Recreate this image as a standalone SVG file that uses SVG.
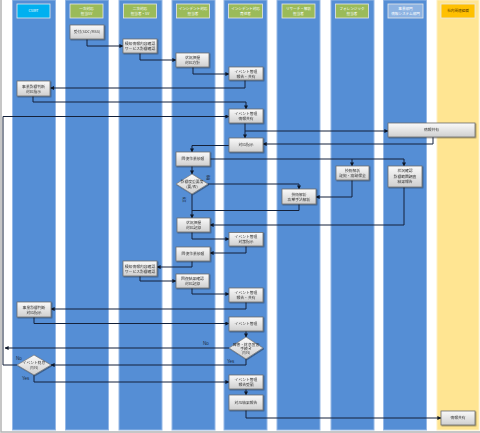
<svg xmlns="http://www.w3.org/2000/svg" width="480" height="433" viewBox="0 0 480 433">
<style>
.lane{fill:#558ed5;stroke:#95b8e6;stroke-width:1}
.lane9{fill:#ffe592;stroke:#fff0c0;stroke-width:1}
.hd{stroke:#e8e8e8;stroke-width:0.8}
.ht{font-family:"Noto Sans CJK JP","Noto Sans",sans-serif;font-size:3.6px;fill:#ffffff;text-anchor:middle}
.htd{fill:#5a3a00}
.box{fill:url(#g);stroke:#6f6f6f;stroke-width:0.8}
.dia{fill:url(#g);stroke:#777;stroke-width:0.7}
.t{font-family:"Noto Sans CJK JP","Noto Sans",sans-serif;font-size:3.8px;fill:#333;text-anchor:middle}
.lbl{font-family:"Liberation Sans","Noto Sans CJK JP",sans-serif;font-size:4.5px;fill:#1a2a40}
.c{fill:none;stroke:#14213a;stroke-width:1}
</style>
<defs>
<linearGradient id="g" x1="0" y1="0" x2="0" y2="1">
<stop offset="0" stop-color="#fafafa"/>
<stop offset="1" stop-color="#cfcfcf"/>
</linearGradient>
<filter id="sh" x="-20%" y="-20%" width="150%" height="160%">
<feDropShadow dx="0.8" dy="0.8" stdDeviation="0.6" flood-color="#000" flood-opacity="0.45"/>
</filter>
<marker id="a" markerWidth="4" markerHeight="4" refX="3.6" refY="2" orient="auto" markerUnits="userSpaceOnUse">
<path d="M0,0 L4,2 L0,4 Z" fill="#0d1626"/>
</marker>
</defs>
<rect x="0" y="0" width="480" height="433" fill="#ffffff"/>
<path d="M1,0 V432 H480" fill="none" stroke="#b4b4b4" stroke-width="1.5"/>

<g id="lanes">
<rect class="lane" x="12.5" y="0" width="43" height="430"/>
<rect class="lane" x="65.5" y="0" width="43" height="430"/>
<rect class="lane" x="119" y="0" width="43" height="430"/>
<rect class="lane" x="172" y="0" width="43" height="430"/>
<rect class="lane" x="224" y="0" width="43" height="430"/>
<rect class="lane" x="277" y="0" width="43" height="430"/>
<rect class="lane" x="331" y="0" width="43" height="430"/>
<rect class="lane" x="383.5" y="0" width="43" height="430"/>
<rect class="lane9" x="437" y="0" width="42" height="430"/>
</g>

<g id="headers">
<g id="h1"><rect class="hd" x="17" y="4" width="33" height="14" fill="#00b0f0"/><text class="ht" x="33.5" y="12.2">CSIRT</text></g>
<g id="h2"><rect class="hd" x="70" y="4" width="33" height="14" fill="#9bbb59"/><text class="ht" x="86.5" y="10">一次対応</text><text class="ht" x="86.5" y="15">担当SV</text></g>
<g id="h3"><rect class="hd" x="123.5" y="4" width="33" height="14" fill="#9bbb59"/><text class="ht" x="140" y="10">二次対応</text><text class="ht" x="140" y="15">担当者・SV</text></g>
<g id="h4"><rect class="hd" x="176.5" y="4" width="33" height="14" fill="#9bbb59"/><text class="ht" x="193" y="10">インシデント対応</text><text class="ht" x="193" y="15">担当者</text></g>
<g id="h5"><rect class="hd" x="228.5" y="4" width="34" height="14" fill="#9bbb59"/><text class="ht" x="245.5" y="10">インシデント対応</text><text class="ht" x="245.5" y="15">責任者</text></g>
<g id="h6"><rect class="hd" x="282" y="4" width="33" height="14" fill="#9bbb59"/><text class="ht" x="298.5" y="10">リサーチ・解析</text><text class="ht" x="298.5" y="15">担当者</text></g>
<g id="h7"><rect class="hd" x="335.5" y="4" width="33" height="14" fill="#9bbb59"/><text class="ht" x="352" y="10">フォレンジック</text><text class="ht" x="352" y="15">担当者</text></g>
<g id="h8"><rect class="hd" x="388" y="4" width="35" height="14" fill="#8db3e2"/><text class="ht" x="405.5" y="10">事業部門</text><text class="ht" x="405.5" y="15">情報システム部門</text></g>
<g id="h9"><rect class="hd" x="441" y="4" width="34" height="14" fill="#ffc000"/><text class="ht htd" x="458" y="12.2">社内関連組織</text></g>
</g>

<g id="connectors">
<path class="c" d="M87,39 V46 H123" marker-end="url(#a)"/>
<path class="c" d="M140,53 V60 H176" marker-end="url(#a)"/>
<path class="c" d="M193,67 V74 H229" marker-end="url(#a)"/>
<path class="c" d="M245,80 V88 H50.5" marker-end="url(#a)"/>
<path class="c" d="M33,96 V102 H246 V109" marker-end="url(#a)"/>
<path class="c" d="M245,123 V138" marker-end="url(#a)"/>
<path class="c" d="M245,131 H388" marker-end="url(#a)"/>
<path class="c" d="M433,137 V144 H263" marker-end="url(#a)"/>
<path class="c" d="M229,145.5 H192 V152" marker-end="url(#a)"/>
<path class="c" d="M210,159 H404 V166" marker-end="url(#a)"/>
<path class="c" d="M352,159 V166" marker-end="url(#a)"/>
<path class="c" d="M192,166 V174" marker-end="url(#a)"/>
<path class="c" d="M208,184 H299 V189" marker-end="url(#a)"/>
<path class="c" d="M192,194 V218" marker-end="url(#a)"/>
<path class="c" d="M352,180 V197 H316" marker-end="url(#a)"/>
<path class="c" d="M299,204 V210.5 H192"/>
<path class="c" d="M404,187 V225 H210" marker-end="url(#a)"/>
<path class="c" d="M192,232 V239 H229" marker-end="url(#a)"/>
<path class="c" d="M246,246 V253 H210" marker-end="url(#a)"/>
<path class="c" d="M192,261 V267 H157" marker-end="url(#a)"/>
<path class="c" d="M140,276 V281 H176" marker-end="url(#a)"/>
<path class="c" d="M192,288 V294 H229" marker-end="url(#a)"/>
<path class="c" d="M246,302 V309 H51" marker-end="url(#a)"/>
<path class="c" d="M34,317 V323.5 H229" marker-end="url(#a)"/>
<path class="c" d="M246,331 V337" marker-end="url(#a)"/>
<path class="c" d="M229,348 H5" marker-end="url(#a)"/>
<path class="c" d="M246,359 V365 H51" marker-end="url(#a)"/>
<path class="c" d="M17,365 H3 V116.5 H229" marker-end="url(#a)"/>
<path class="c" d="M34,375 V382 H229" marker-end="url(#a)"/>
<path class="c" d="M246,389 V395" marker-end="url(#a)"/>
<path class="c" d="M246,410 V418 H441" marker-end="url(#a)"/>
<text class="lbl" x="206" y="179">要</text>
<text class="lbl" x="182" y="201">否</text>
<text class="lbl" x="203" y="345">No</text>
<text class="lbl" x="227" y="363">Yes</text>
<text class="lbl" x="16" y="360">No</text>
<text class="lbl" x="22" y="380">Yes</text>
</g>

<g id="n1" filter="url(#sh)"><rect class="box" x="70" y="25" width="34" height="14"/><text class="t" x="87" y="33.3">受付(SOC/MSS)</text></g>
<g id="n2" filter="url(#sh)"><rect class="box" x="123" y="39" width="34" height="14"/><text class="t" x="140" y="45">検知情報内容確認</text><text class="t" x="140" y="50">サービス影響確認</text></g>
<g id="n3" filter="url(#sh)"><rect class="box" x="176" y="53" width="33" height="14"/><text class="t" x="192.5" y="59">状況把握</text><text class="t" x="192.5" y="64">対応方針</text></g>
<g id="n4" filter="url(#sh)"><rect class="box" x="229" y="67" width="34" height="13"/><text class="t" x="246" y="72.5">イベント管理</text><text class="t" x="246" y="77.5">報告・共有</text></g>
<g id="n5" filter="url(#sh)"><rect class="box" x="17" y="81" width="33" height="15"/><text class="t" x="33.5" y="87.5">事業影響判断</text><text class="t" x="33.5" y="92.5">対応指示</text></g>
<g id="n6" filter="url(#sh)"><rect class="box" x="229" y="109" width="34" height="14"/><text class="t" x="246" y="115">イベント管理</text><text class="t" x="246" y="120">情報共有</text></g>
<g id="n7" filter="url(#sh)"><rect class="box" x="388" y="123" width="87" height="14"/><text class="t" x="431.5" y="131.3">情報共有</text></g>
<g id="n8" filter="url(#sh)"><rect class="box" x="229" y="138" width="34" height="14"/><text class="t" x="246" y="146.3">対応指示</text></g>
<g id="n9" filter="url(#sh)"><rect class="box" x="176" y="152" width="34" height="14"/><text class="t" x="193" y="160.3">回復作業依頼</text></g>
<g id="n10" filter="url(#sh)"><rect class="box" x="336" y="166" width="33" height="14"/><text class="t" x="352.5" y="172">技術解析</text><text class="t" x="352.5" y="177">証拠・痕跡保全</text></g>
<g id="n11" filter="url(#sh)"><rect class="box" x="388" y="166" width="34" height="21"/><text class="t" x="405" y="172">状況確認</text><text class="t" x="405" y="177.5">影響範囲調査</text><text class="t" x="405" y="183">結果報告</text></g>
<g id="n12" filter="url(#sh)"><rect class="box" x="282" y="189" width="34" height="15"/><text class="t" x="299" y="195.5">技術解析</text><text class="t" x="299" y="200.5">攻撃手法解析</text></g>
<g id="d1" filter="url(#sh)"><path class="dia" d="M192,174 L208,184 L192,194 L176,184 Z"/><text class="t" x="192" y="183" font-size="3.3">影響度重要度</text><text class="t" x="192" y="187.5" font-size="3.3">(要/否)</text></g>
<g id="n13" filter="url(#sh)"><rect class="box" x="177" y="218" width="33" height="14"/><text class="t" x="193.5" y="224">状況把握</text><text class="t" x="193.5" y="229">対応記録</text></g>
<g id="n14" filter="url(#sh)"><rect class="box" x="229" y="232.5" width="34" height="13.5"/><text class="t" x="246" y="238">イベント管理</text><text class="t" x="246" y="243">対策指示</text></g>
<g id="n15" filter="url(#sh)"><rect class="box" x="176" y="247" width="34" height="14"/><text class="t" x="193" y="255.3">回復作業依頼</text></g>
<g id="n16" filter="url(#sh)"><rect class="box" x="123" y="261" width="34" height="15"/><text class="t" x="140" y="267.5">検知情報内容確認</text><text class="t" x="140" y="272.5">サービス影響確認</text></g>
<g id="n17" filter="url(#sh)"><rect class="box" x="176" y="274" width="33" height="14"/><text class="t" x="192.5" y="280">回復結果確認</text><text class="t" x="192.5" y="285">対応記録</text></g>
<g id="n18" filter="url(#sh)"><rect class="box" x="229" y="288" width="34" height="14"/><text class="t" x="246" y="294">イベント管理</text><text class="t" x="246" y="299">報告・共有</text></g>
<g id="n19" filter="url(#sh)"><rect class="box" x="17" y="302" width="34" height="15"/><text class="t" x="34" y="308.5">事業影響判断</text><text class="t" x="34" y="313.5">対応指示</text></g>
<g id="n20" filter="url(#sh)"><rect class="box" x="229" y="317" width="34" height="14"/><text class="t" x="246" y="325.3">イベント管理</text></g>
<g id="d2" filter="url(#sh)"><path class="dia" d="M246,337 L263,348 L246,359 L229,348 Z"/><text class="t" x="246" y="345.5" font-size="3.2">障害・終息宣言</text><text class="t" x="246" y="349.5" font-size="3.2">手続き</text><text class="t" x="246" y="353.5" font-size="3.2">(Y/N)</text></g>
<g id="d3" filter="url(#sh)"><path class="dia" d="M34,355 L51,365 L34,375 L17,365 Z"/><text class="t" x="34" y="364" font-size="3.3">イベント終息</text><text class="t" x="34" y="368.5" font-size="3.3">(Y/N)</text></g>
<g id="n21" filter="url(#sh)"><rect class="box" x="229" y="375" width="34" height="14"/><text class="t" x="246" y="381">イベント管理</text><text class="t" x="246" y="386">報告受領</text></g>
<g id="n22" filter="url(#sh)"><rect class="box" x="229" y="395" width="34" height="15"/><text class="t" x="246" y="403.8">対応結果報告</text></g>
<g id="n23" filter="url(#sh)"><rect class="box" x="441" y="411" width="34" height="14"/><text class="t" x="458" y="419.3">情報共有</text></g>
</svg>
